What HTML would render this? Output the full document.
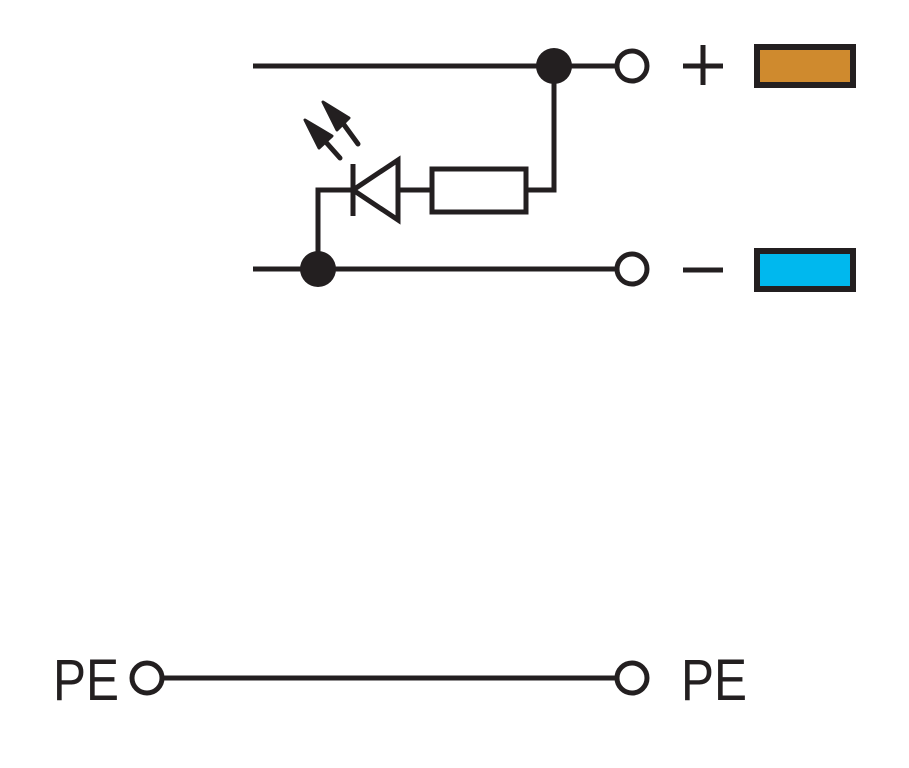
<!DOCTYPE html>
<html><head><style>
html,body{margin:0;padding:0;background:#fff;width:909px;height:768px;overflow:hidden}
svg{display:block}
</style></head><body>
<svg width="909" height="768" viewBox="0 0 909 768" xmlns="http://www.w3.org/2000/svg">
<g stroke="#231f20" stroke-width="5" fill="none">
<line x1="253" y1="66" x2="616" y2="66"/>
<line x1="253" y1="269" x2="616" y2="269"/>
<polyline points="554,66 554,190 527,190"/>
<rect x="432" y="169" width="94" height="43"/>
<line x1="398" y1="190" x2="432" y2="190"/>
<polygon points="398,160 398,220 353,190" stroke-linejoin="miter"/>
<line x1="353" y1="164" x2="353" y2="216"/>
<polyline points="353,190 318,190 318,269"/>
<line x1="340" y1="158" x2="324" y2="140" stroke-linecap="round"/>
<line x1="358" y1="144" x2="342" y2="122" stroke-linecap="round"/>
<circle cx="632" cy="66" r="15"/>
<circle cx="632" cy="269" r="15"/>
<line x1="683" y1="66" x2="723" y2="66"/>
<line x1="703" y1="45" x2="703" y2="85"/>
<line x1="683" y1="270" x2="723" y2="270"/>
<rect x="757" y="47" width="96" height="38" fill="#CF8A2E" stroke-width="6"/>
<rect x="757" y="251" width="96" height="38" fill="#00B8EE" stroke-width="6"/>
<line x1="162" y1="678" x2="617" y2="678"/>
<circle cx="147" cy="678" r="15"/>
<circle cx="632" cy="678" r="15"/>
</g>
<g fill="#231f20" stroke="#231f20" stroke-width="3" stroke-linejoin="round">
<circle cx="554" cy="66" r="18" stroke="none"/>
<circle cx="318" cy="269" r="18" stroke="none"/>
<polygon points="305,120 332,136 319,148"/>
<polygon points="323,102 349,118 337,130"/>
</g>
<g font-family="Liberation Sans, sans-serif" font-size="58" fill="#231f20">
<text x="53" y="700" textLength="66" lengthAdjust="spacingAndGlyphs">PE</text>
<text x="681" y="700" textLength="66" lengthAdjust="spacingAndGlyphs">PE</text>
</g>
</svg>
</body></html>
